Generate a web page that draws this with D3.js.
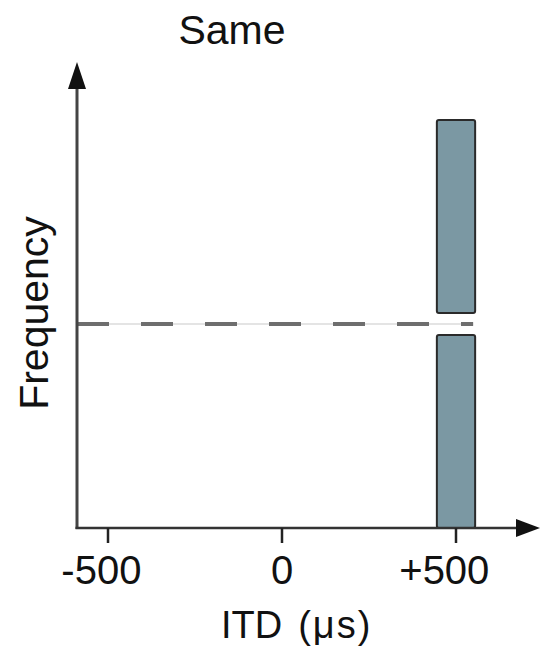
<!DOCTYPE html>
<html>
<head>
<meta charset="utf-8">
<script src="https://cdn.jsdelivr.net/npm/d3@7"></script>
<style>
  body { margin: 0; background: #fff; }
  text { font-family: "Liberation Sans", Arial, Helvetica, sans-serif; fill: #111; }
</style>
</head>
<body>
<div id="chart"></div>
<script>
// histogram of chosen ITD, "Same" condition
const title = "Same";
const binLeft = [445];          // bin edges in µs
const binRight = [555];
const freq = [1.0];             // relative frequency
const chance = 0.5;
const xTicks = [-500, 0, 500];
const xTickLabels = ["-500", "0", "+500"];

const width = 540, height = 655;
const x0 = 77, y0 = 528;
const gap = 11;   // px left open above/below the chance line

const svg = d3.select("#chart").append("svg")
    .attr("width", width)
    .attr("height", height);

// scales
let x = d3.scaleLinear().domain([-500, 500]).range([108, 456]);
let y = d3.scaleLinear().domain([0, 1]).range([y0, 120]);

// chance line (faint + dashed)
const lineEnd = x(binRight[0]) - 2;
svg.append("line")
    .attr("x1", x0).attr("x2", lineEnd)
    .attr("y1", y(chance)).attr("y2", y(chance))
    .attr("stroke", "#e4e4e4").attr("stroke-width", 2);
svg.append("line")
    .attr("x1", x0).attr("x2", lineEnd)
    .attr("y1", y(chance)).attr("y2", y(chance))
    .attr("stroke", "#6e6e6e").attr("stroke-width", 4)
    .attr("stroke-dasharray", "32,32");

// bars, split into two boxes where they cross the chance line
let pieces = [];
freq.forEach((f, i) => {
    if (f > chance) {
        pieces.push({i, top: y(f), bottom: y(chance) - gap});
        pieces.push({i, top: y(chance) + gap, bottom: y(0)});
    } else {
        pieces.push({i, top: y(f), bottom: y(0)});
    }
});

svg.selectAll("rect.bar")
    .data(pieces)
    .join("rect")
    .attr("class", "bar")
    .attr("x", d => x(binLeft[d.i]))
    .attr("width", d => x(binRight[d.i]) - x(binLeft[d.i]))
    .attr("y", d => d.top)
    .attr("height", d => d.bottom - d.top)
    .attr("rx", 2)
    .attr("fill", "#7b98a3")
    .attr("stroke", "#2a2a2a")
    .attr("stroke-width", 2);

// axes
svg.append("line")
    .attr("x1", x0).attr("x2", x0)
    .attr("y1", y0 + 1).attr("y2", 85)
    .attr("stroke", "#444").attr("stroke-width", 3);
svg.append("path")
    .attr("d", `M${x0},62 L${x0 - 9},89 L${x0 + 9},89 Z`)
    .attr("fill", "#111");

svg.append("line")
    .attr("x1", x0 - 1.5).attr("x2", 520)
    .attr("y1", y0).attr("y2", y0)
    .attr("stroke", "#333").attr("stroke-width", 2.5);
svg.append("path")
    .attr("d", `M540,${y0} L516,${y0 - 9} L516,${y0 + 9} Z`)
    .attr("fill", "#111");

// ticks
svg.selectAll("line.tick")
    .data(xTicks)
    .join("line")
    .attr("class", "tick")
    .attr("x1", d => x(d)).attr("x2", d => x(d))
    .attr("y1", y0).attr("y2", y0 + 15)
    .attr("stroke", "#222").attr("stroke-width", 2.5);

// tick labels: the digits sit centred on the tick, the sign hangs left
const tl = svg.selectAll("text.tl")
    .data(xTicks)
    .join("text")
    .attr("class", "tl")
    .attr("y", 584)
    .attr("text-anchor", "end")
    .style("font-size", "40px")
    .text((d, i) => xTickLabels[i]);
tl.each(function (d, i) {
    const digits = xTickLabels[i].replace(/^[+-]/, "");
    const probe = svg.append("text").style("font-size", "40px").text(digits);
    const w = probe.node().getComputedTextLength();
    probe.remove();
    d3.select(this).attr("x", x(d) + w / 2);
});

// labels
const xl = svg.append("text")
    .attr("x", 221).attr("y", 638)
    .style("font-size", "38px");
xl.append("tspan").text("ITD");
xl.append("tspan").attr("dx", 16).style("letter-spacing", "2px").text("(\u03bcs)");

svg.append("text")
    .attr("transform", "translate(48,313) rotate(-90)")
    .attr("text-anchor", "middle")
    .style("font-size", "41px")
    .text("Frequency");

svg.append("text")
    .attr("x", 232).attr("y", 44)
    .attr("text-anchor", "middle")
    .style("font-size", "41px")
    .text(title);
</script>
</body>
</html>
